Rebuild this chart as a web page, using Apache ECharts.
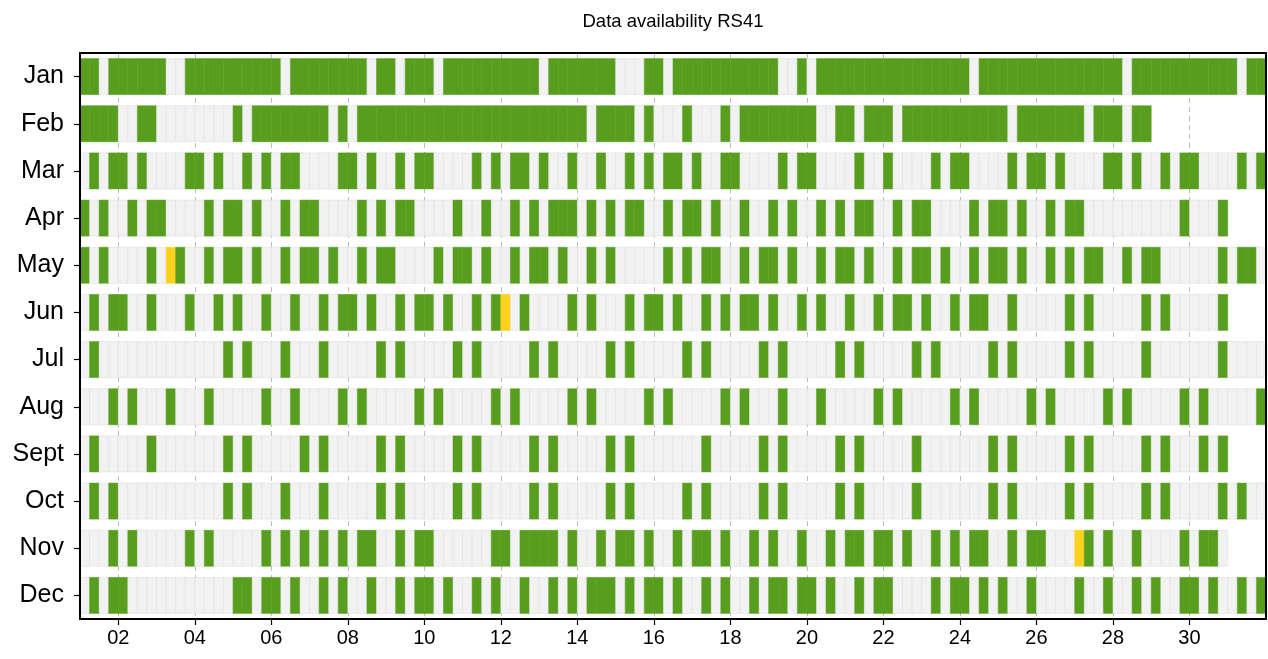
<!DOCTYPE html>
<html><head><meta charset="utf-8">
<script src="https://cdn.jsdelivr.net/npm/echarts@6/dist/echarts.min.js"></script>
<style>html,body{margin:0;padding:0;background:#fff}#c{width:1268px;height:659px}</style>
</head><body><div id="c"></div>
<script>
// Month rows and their number of days
const months = ['Jan','Feb','Mar','Apr','May','Jun','Jul','Aug','Sept','Oct','Nov','Dec'];
const daysInMonth = [31,28,31,30,31,30,31,31,30,31,30,31];
const slotsPerDay = 4; // 6-hourly launches
const dayTicks = [2,4,6,8,10,12,14,16,18,20,22,24,26,28,30];

// Available (green) 6-hourly slots, as inclusive [first, last] slot index ranges (slot 0 = day 1 00h)
const availJan = [[0,1],[3,8],[11,20],[22,29],[31,32],[34,36],[38,47],[49,55],[59,60],[62,72],[75,75],[77,92],[94,108],[110,120],[122,123]];
const availFeb = [[0,3],[6,7],[16,16],[18,25],[27,27],[29,52],[54,57],[59,59],[63,63],[67,67],[69,76],[79,80],[82,84],[86,96],[98,104],[106,108],[110,111]];
const availMar = [[1,1],[3,4],[6,6],[11,12],[14,14],[17,17],[19,19],[21,22],[27,28],[30,30],[33,33],[35,36],[41,41],[43,43],[45,46],[48,48],[51,51],[54,54],[57,57],[59,59],[61,62],[64,64],[67,68],[73,73],[75,76],[81,81],[84,84],[89,89],[91,92],[97,97],[99,100],[102,102],[107,108],[110,110],[113,113],[115,116],[121,121],[123,123]];
const availApr = [[0,0],[2,2],[5,5],[7,8],[13,13],[15,16],[18,18],[21,21],[23,24],[29,29],[31,31],[33,34],[39,39],[42,42],[45,45],[47,47],[49,51],[53,53],[55,55],[57,58],[61,61],[63,64],[66,66],[69,69],[72,72],[74,74],[77,77],[79,79],[81,82],[85,85],[87,88],[93,93],[95,96],[98,98],[101,101],[103,104],[115,115],[119,119]];
const availMay = [[0,0],[2,2],[7,7],[10,10],[13,13],[15,16],[18,18],[21,21],[23,24],[26,26],[29,29],[31,32],[37,37],[39,40],[42,42],[45,45],[47,48],[50,50],[53,53],[55,55],[61,61],[63,63],[65,66],[69,69],[71,72],[74,74],[77,77],[79,80],[82,82],[85,85],[87,88],[90,90],[93,93],[95,96],[98,98],[101,101],[103,103],[105,106],[109,109],[111,112],[119,119],[121,122]];
const availJun = [[1,1],[3,4],[7,7],[11,11],[14,14],[16,16],[19,19],[22,22],[25,25],[27,28],[30,30],[33,33],[35,36],[38,38],[41,41],[43,43],[46,46],[51,51],[53,53],[57,57],[59,60],[62,62],[65,65],[67,67],[69,70],[72,72],[75,75],[77,77],[80,80],[83,83],[85,86],[88,88],[91,91],[93,94],[97,97],[103,103],[105,105],[111,111],[113,113],[119,119]];
const availJul = [[1,1],[15,15],[17,17],[21,21],[25,25],[31,31],[33,33],[39,39],[41,41],[47,47],[49,49],[55,55],[57,57],[63,63],[65,65],[71,71],[73,73],[79,79],[81,81],[87,87],[89,89],[95,95],[97,97],[103,103],[105,105],[111,111],[119,119]];
const availAug = [[3,3],[5,5],[9,9],[13,13],[19,19],[22,22],[27,27],[29,29],[35,35],[37,37],[43,43],[45,45],[51,51],[53,53],[59,59],[61,61],[67,67],[69,69],[73,73],[77,77],[83,83],[85,85],[91,91],[93,93],[99,99],[101,101],[107,107],[109,109],[115,115],[117,117],[123,123]];
const availSep = [[1,1],[7,7],[15,15],[17,17],[23,23],[25,25],[31,31],[33,33],[39,39],[41,41],[47,47],[49,49],[55,55],[57,57],[65,65],[71,71],[73,73],[79,79],[81,81],[87,87],[95,95],[97,97],[103,103],[105,105],[111,111],[113,113],[117,117],[119,119]];
const availOct = [[1,1],[3,3],[15,15],[17,17],[21,21],[25,25],[31,31],[33,33],[39,39],[41,41],[47,47],[49,49],[55,55],[57,57],[63,63],[65,65],[71,71],[73,73],[79,79],[81,81],[87,87],[95,95],[97,97],[103,103],[105,105],[111,111],[113,113],[119,119],[121,121]];
const availNov = [[3,3],[5,5],[11,11],[13,13],[19,19],[21,21],[23,23],[25,25],[27,27],[29,30],[33,33],[35,36],[43,44],[46,49],[51,51],[54,54],[56,57],[59,59],[62,62],[64,65],[67,67],[70,70],[72,72],[75,75],[78,78],[80,81],[83,84],[86,86],[89,89],[91,91],[93,94],[97,97],[99,100],[105,105],[107,107],[110,110],[115,115],[117,118]];
const availDec = [[1,1],[3,4],[16,17],[19,20],[22,22],[25,25],[27,27],[30,30],[33,33],[35,36],[38,38],[41,41],[43,43],[46,46],[49,49],[51,51],[53,55],[57,57],[59,60],[62,62],[65,65],[67,67],[70,70],[72,73],[75,76],[78,78],[81,81],[83,84],[89,89],[91,92],[94,94],[96,96],[99,99],[104,104],[107,107],[110,110],[112,112],[115,116],[118,118],[121,121],[123,123]];
const availByMonth = [availJan,availFeb,availMar,availApr,availMay,availJun,availJul,availAug,availSep,availOct,availNov,availDec];

// Partially available (yellow) slots
const partialMay = [9];
const partialJun = [44];
const partialNov = [104];
const partialByMonth = {4: partialMay, 5: partialJun, 10: partialNov};

const STATUS_MISSING = 0, STATUS_OK = 1, STATUS_PARTIAL = 2;
const statusColors = ['#f2f2f2', '#589e1e', '#fdd21f'];
const statusStrokes = ['#dddddd', '#589e1e', '#fdd21f'];

const data = [];
months.forEach((m, mi) => {
  const nSlots = daysInMonth[mi] * slotsPerDay;
  const ranges = availByMonth[mi];
  const partial = partialByMonth[mi] || [];
  for (let k = 0; k < nSlots; k++) {
    let st = STATUS_MISSING;
    if (ranges.some(r => k >= r[0] && k <= r[1])) st = STATUS_OK;
    if (partial.includes(k)) st = STATUS_PARTIAL;
    data.push([1 + k / slotsPerDay, mi, st]);
  }
});

const FONT = "'Liberation Sans', Arial, Helvetica, sans-serif";
const chart = echarts.init(document.getElementById('c'), null, {renderer: 'canvas'});
chart.setOption({
  animation: false,
  backgroundColor: '#fff',
  title: {
    text: 'Data availability RS41', left: 673, top: 12, textAlign: 'center', padding: 0,
    textStyle: {fontFamily: FONT, fontSize: 18.5, fontWeight: 'normal', color: '#000'}
  },
  grid: {left: 80, right: 2, top: 53, bottom: 40, containLabel: false},
  xAxis: [{
    type: 'value', min: 1, max: 32, position: 'bottom',
    axisLine: {show: false},
    axisTick: {show: true, customValues: dayTicks, length: 6, lineStyle: {color: '#000', width: 1.2}},
    axisLabel: {show: true, customValues: dayTicks, margin: 9, color: '#000', fontFamily: FONT, fontSize: 20,
      formatter: v => String(Math.round(v)).padStart(2, '0')},
    splitLine: {show: true, lineStyle: {color: '#bdbdbd', width: 1, type: [5, 4]}}
  }, {
    type: 'value', min: 1, max: 32, position: 'bottom', z: 10,
    axisLine: {show: true, onZero: false, lineStyle: {color: '#000', width: 2}},
    axisTick: {show: false}, axisLabel: {show: false}, splitLine: {show: false}
  }, {
    type: 'value', min: 1, max: 32, position: 'top', z: 10,
    axisLine: {show: true, onZero: false, lineStyle: {color: '#000', width: 2}},
    axisTick: {show: false}, axisLabel: {show: false}, splitLine: {show: false}
  }],
  yAxis: [{
    type: 'category', data: months, inverse: true, position: 'left', z: 10,
    axisLine: {show: true, onZero: false, lineStyle: {color: '#000', width: 2}},
    axisTick: {show: true, alignWithLabel: true, length: 6, lineStyle: {color: '#000', width: 1.2}},
    axisLabel: {color: '#000', fontFamily: FONT, fontSize: 25, margin: 16},
    splitLine: {show: false}
  }, {
    type: 'category', data: months, inverse: true, position: 'right', z: 10,
    axisLine: {show: true, onZero: false, lineStyle: {color: '#000', width: 2}},
    axisTick: {show: false}, axisLabel: {show: false}, splitLine: {show: false}
  }],
  series: [{
    type: 'custom',
    xAxisIndex: 0, yAxisIndex: 0,
    encode: {x: 0, y: 1},
    data: data,
    renderItem: function (params, api) {
      const x = api.value(0), y = api.value(1), st = api.value(2);
      const p0 = api.coord([x, y]);
      const p1 = api.coord([x + 1 / slotsPerDay, y]);
      const h = api.size([0, 1])[1] * 0.765;
      return {
        type: 'rect',
        shape: {x: p0[0], y: p0[1] - h / 2, width: p1[0] - p0[0], height: h},
        style: {fill: statusColors[st], stroke: statusStrokes[st], lineWidth: 0.5}
      };
    }
  }]
});
</script>
</body></html>
